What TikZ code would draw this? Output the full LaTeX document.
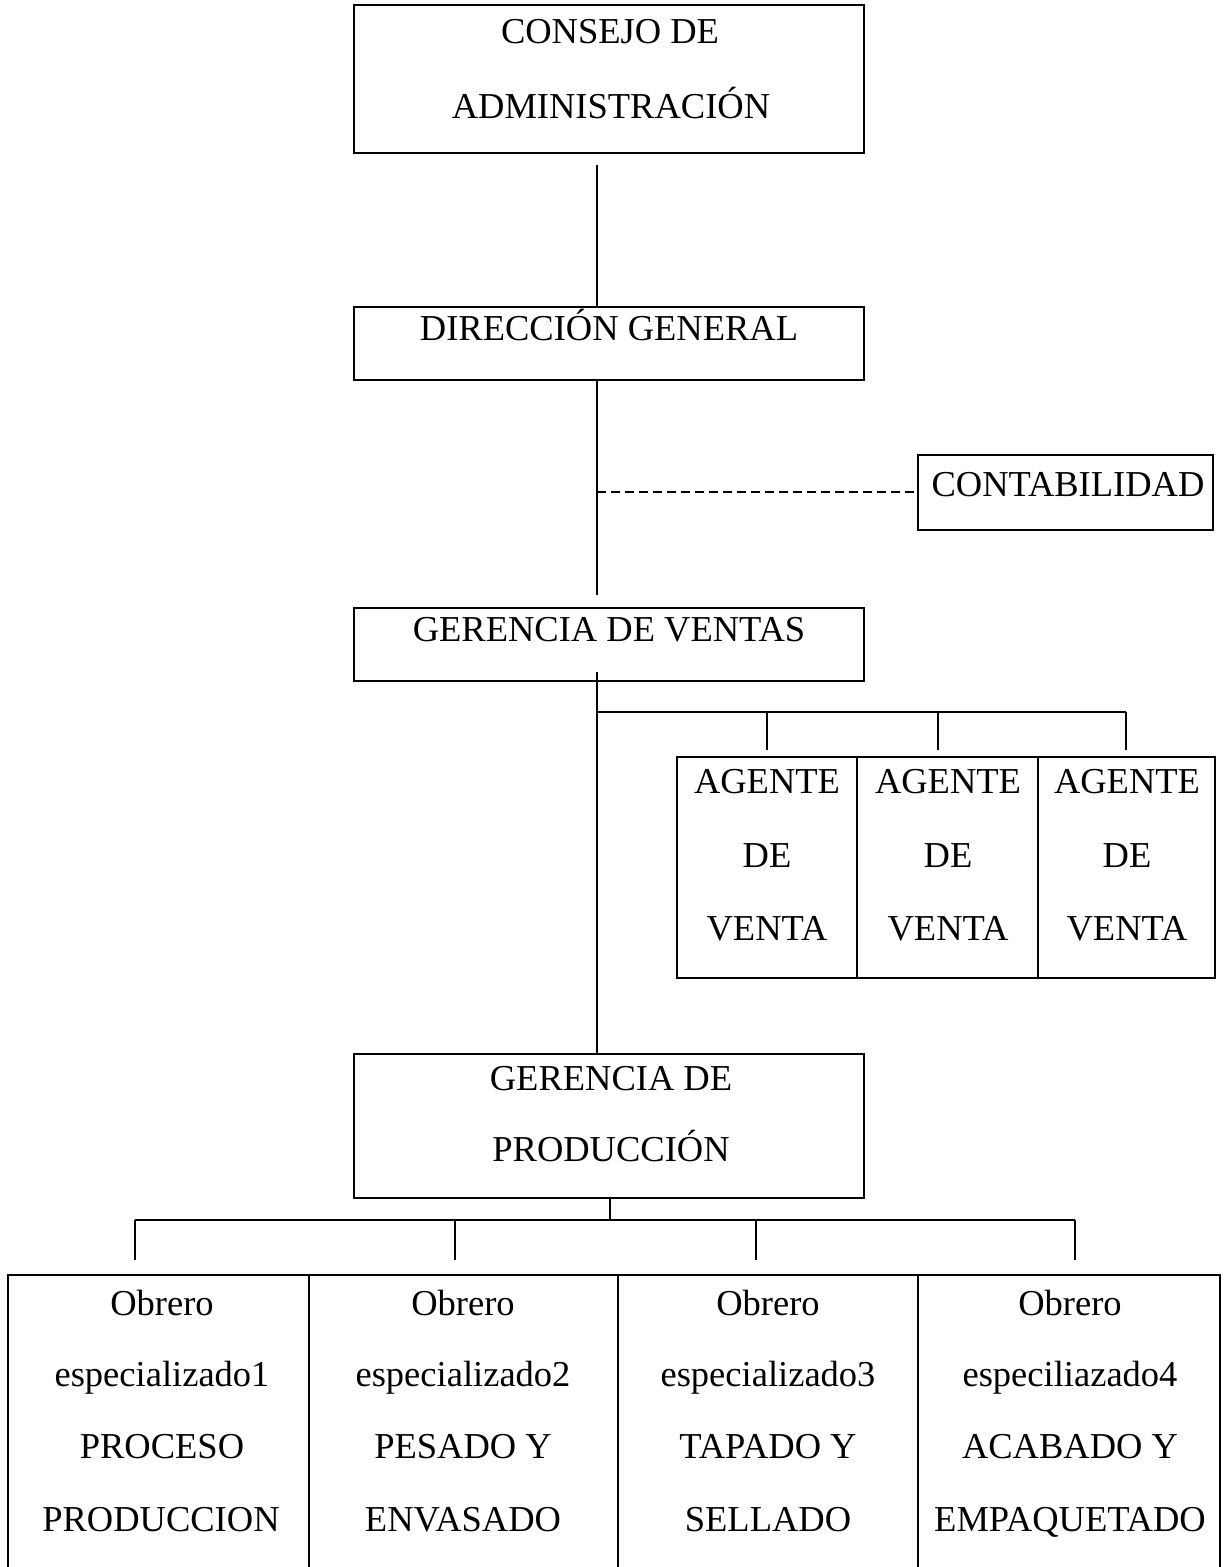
\documentclass[tikz,border=0pt]{standalone}
\usepackage{fontspec}
\setmainfont{Liberation Serif}
\usetikzlibrary{fit}
\begin{document}
\begin{tikzpicture}[x=1pt,y=-1pt,
  box/.style={draw, line width=1.6pt, inner sep=0pt, outer sep=0pt},
  lbl/.style={anchor=base, inner sep=0pt, font=\fontsize{36.5}{40}\selectfont},
  ln/.style={line width=1.8pt},
  dln/.style={line width=1.6pt, dash pattern=on 9pt off 5pt}]
\clip (0,0) rectangle (1229,1567);
\useasboundingbox (0,0) rectangle (1229,1567);
% boxes
\node[box, fit={(354,5) (864,153)}] (consejo) {};
\node[box, fit={(354,307) (864,380)}] (direccion) {};
\node[box, fit={(918,455) (1213,530)}] (conta) {};
\node[box, fit={(354,608) (864,681)}] (ventas) {};
\node[box, fit={(677,757) (857,978)}] (a1) {};
\node[box, fit={(857,757) (1038,978)}] (a2) {};
\node[box, fit={(1038,757) (1215,978)}] (a3) {};
\node[box, fit={(354,1054) (864,1198)}] (prod) {};
\node[box, fit={(8,1275) (309,1590)}] (w1) {};
\node[box, fit={(309,1275) (618,1590)}] (w2) {};
\node[box, fit={(618,1275) (918,1590)}] (w3) {};
\node[box, fit={(918,1275) (1220,1590)}] (w4) {};
% texts
\node[lbl] (t1) at (610,43) {CONSEJO DE};
\node[lbl] (t2) at (611,118) {ADMINISTRACIÓN};
\node[lbl] (t3) at (609,340) {DIRECCIÓN GENERAL};
\node[lbl] (t4) at (1068,496) {CONTABILIDAD};
\node[lbl] (t5) at (609,641) {GERENCIA DE VENTAS};
\foreach \x/\n in {767/1,948/2,1127/3}{
  \node[lbl] (ag\n a) at (\x,793) {AGENTE};
  \node[lbl] (ag\n b) at (\x,867) {DE};
  \node[lbl] (ag\n c) at (\x,940) {VENTA};
}
\node[lbl] (t6) at (611,1090) {GERENCIA DE};
\node[lbl] (t7) at (611,1161) {PRODUCCIÓN};
\node[lbl] (o1a) at (162,1315) {Obrero};
\node[lbl] (o1b) at (162,1386) {especializado1};
\node[lbl] (o1c) at (162,1458) {PROCESO};
\node[lbl] (o1d) at (161,1531) {PRODUCCION};
\node[lbl] (o2a) at (463,1315) {Obrero};
\node[lbl] (o2b) at (463,1386) {especializado2};
\node[lbl] (o2c) at (463,1458) {PESADO Y};
\node[lbl] (o2d) at (463,1531) {ENVASADO};
\node[lbl] (o3a) at (768,1315) {Obrero};
\node[lbl] (o3b) at (768,1386) {especializado3};
\node[lbl] (o3c) at (768,1458) {TAPADO Y};
\node[lbl] (o3d) at (768,1531) {SELLADO};
\node[lbl] (o4a) at (1070,1315) {Obrero};
\node[lbl] (o4b) at (1070,1386) {especiliazado4};
\node[lbl] (o4c) at (1070,1458) {ACABADO Y};
\node[lbl] (o4d) at (1070,1531) {EMPAQUETADO};
% connector coordinates
\coordinate (sp) at (597,0);
\coordinate (dash) at (597,492);
\coordinate (abr) at (597,712);
\coordinate (ab1) at (767,712);
\coordinate (ab2) at (938,712);
\coordinate (ab3) at (1126,712);
\coordinate (pbr) at (610,1220);
\coordinate (pb1) at (135,1220);
\coordinate (pb2) at (455,1220);
\coordinate (pb3) at (756,1220);
\coordinate (pb4) at (1075,1220);
% connectors
\draw[ln] (consejo.south -| sp) ++(0,12) -- (direccion.north -| sp);
\draw[ln] (direccion.south -| sp) -- ([yshift=13pt]ventas.north -| sp);
\draw[dln] (dash) -- (conta.west |- dash);
\draw[ln] ([yshift=9pt]ventas.south -| sp) -- (prod.north -| sp);
\draw[ln] (abr) -- (ab3);
\draw[ln, shorten >=7pt] (ab1) -- (a1.north -| ab1);
\draw[ln, shorten >=7pt] (ab2) -- (a2.north -| ab2);
\draw[ln, shorten >=7pt] (ab3) -- (a3.north -| ab3);
\draw[ln] (prod.south -| pbr) -- (pbr);
\draw[ln] (pb1) -- (pb4);
\draw[ln, shorten >=15pt] (pb1) -- (w1.north -| pb1);
\draw[ln, shorten >=15pt] (pb2) -- (w2.north -| pb2);
\draw[ln, shorten >=15pt] (pb3) -- (w3.north -| pb3);
\draw[ln, shorten >=15pt] (pb4) -- (w4.north -| pb4);
\end{tikzpicture}
\end{document}
